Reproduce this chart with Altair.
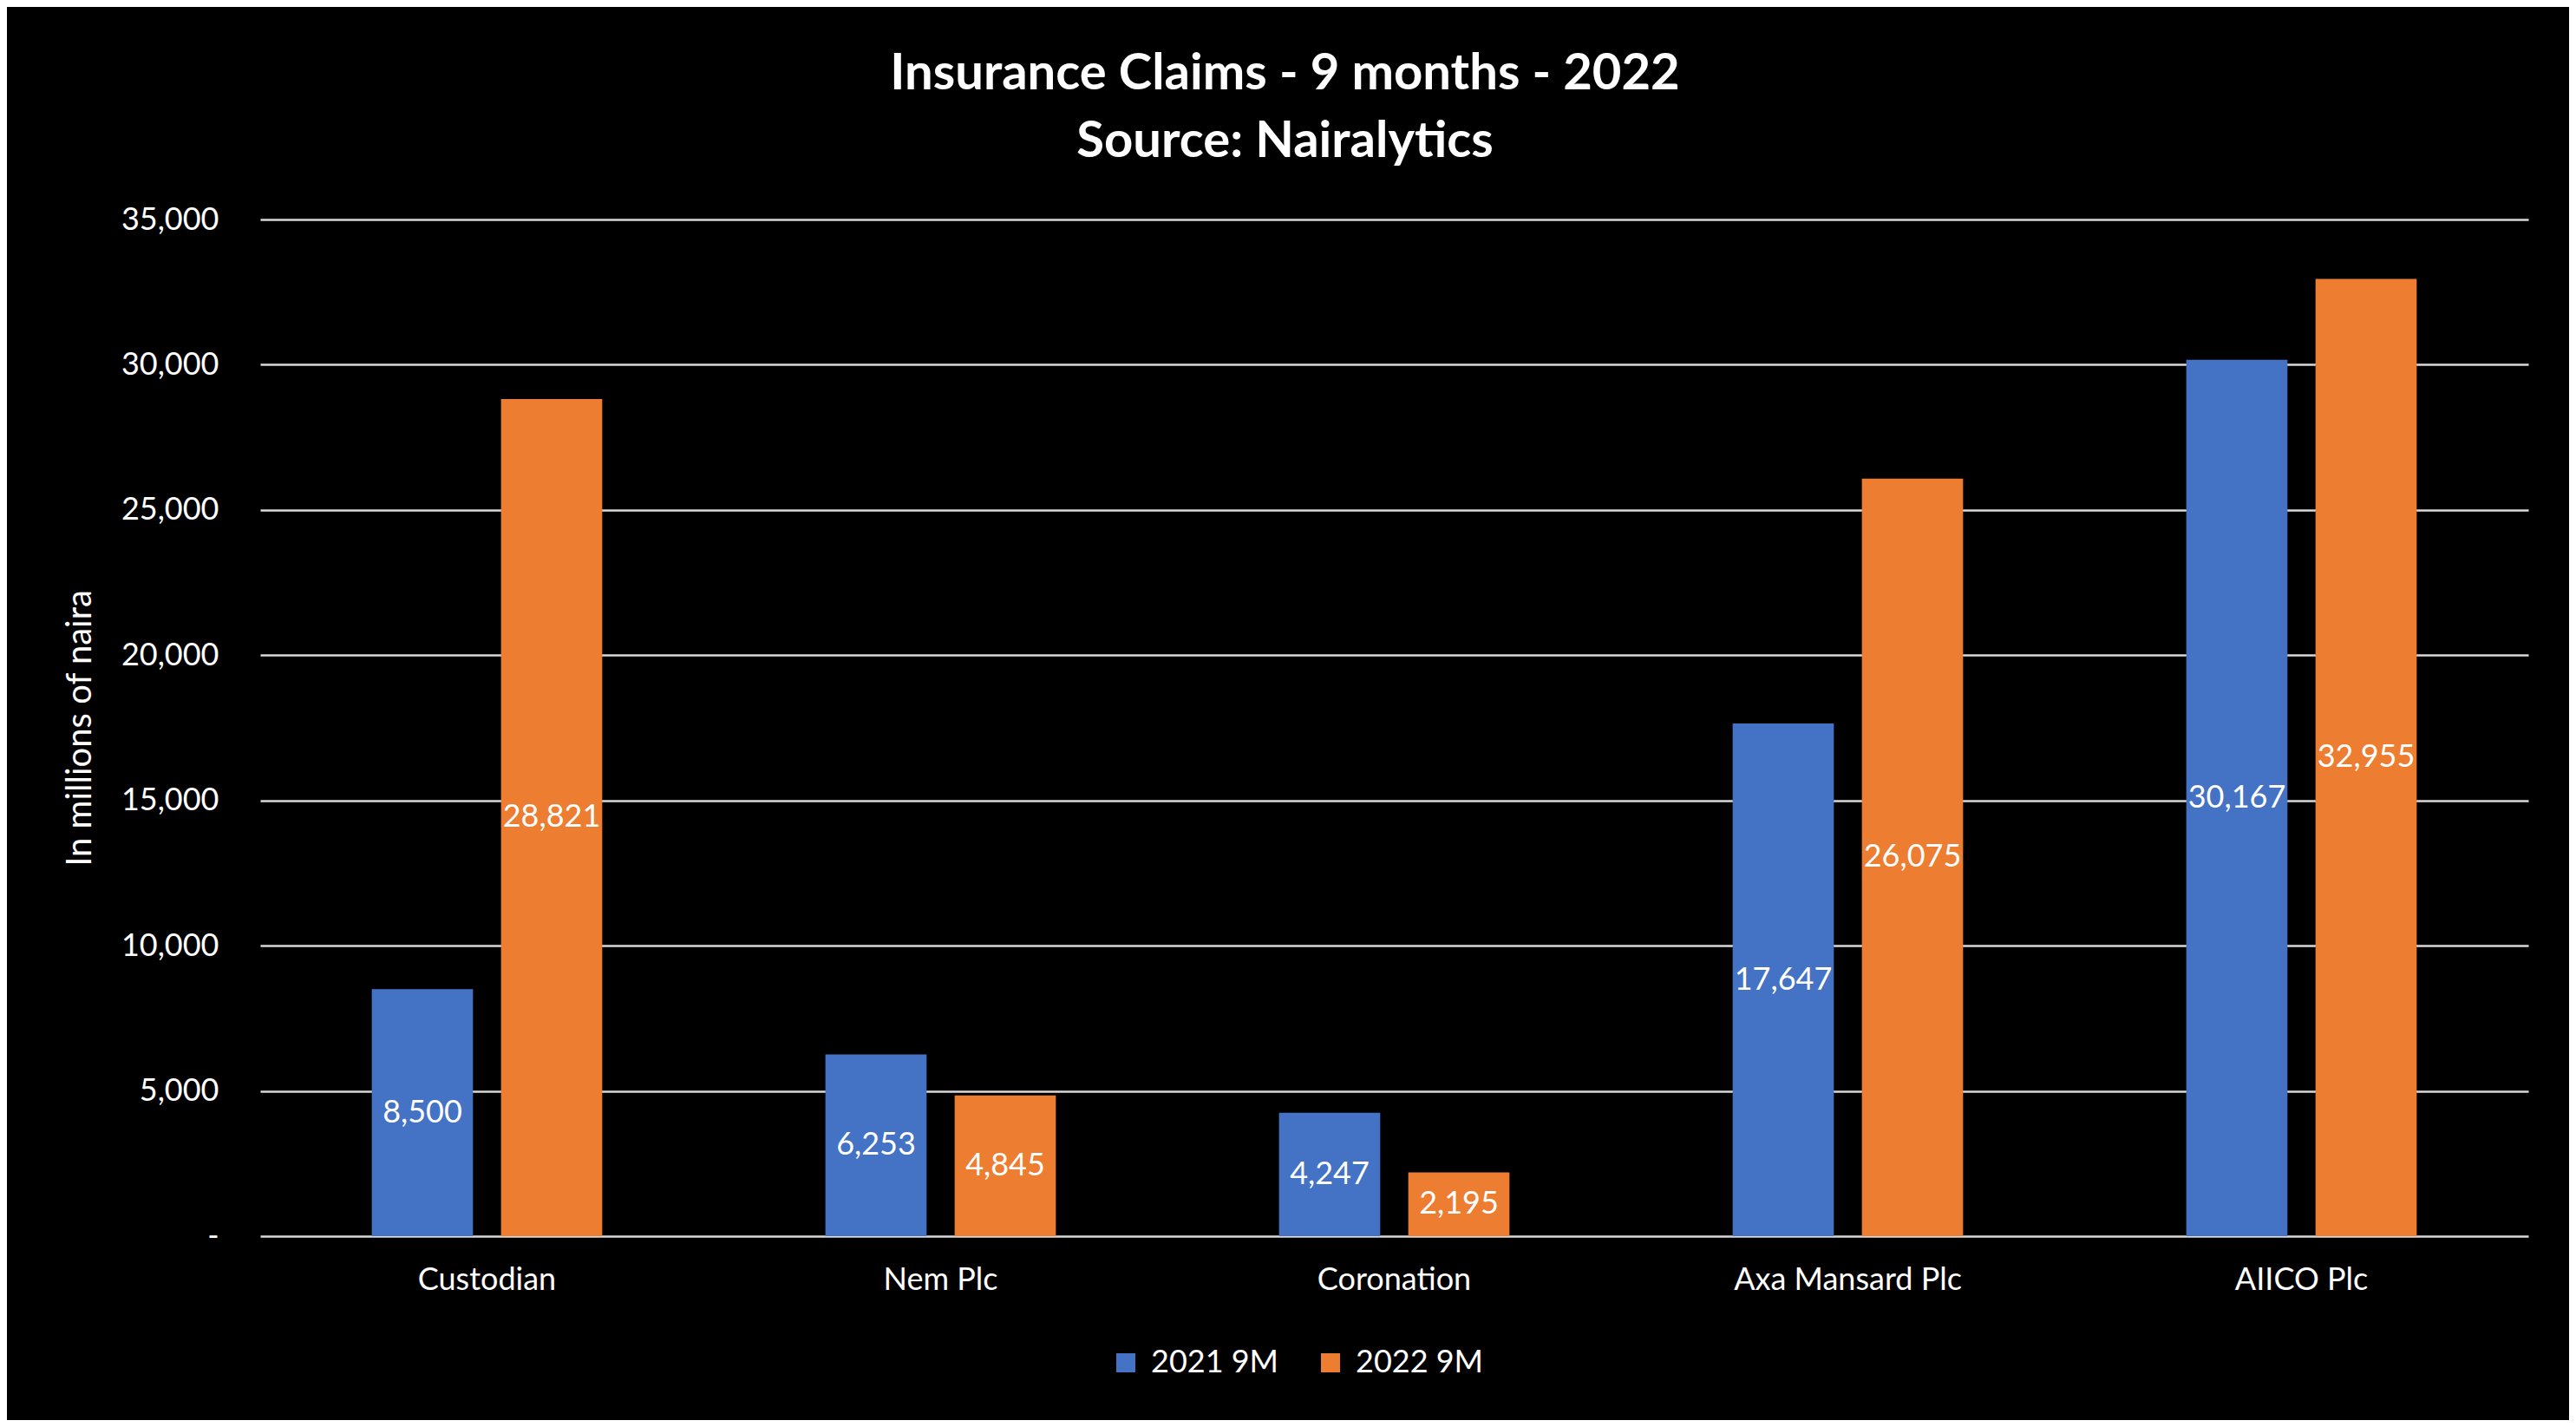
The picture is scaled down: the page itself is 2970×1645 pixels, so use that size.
import altair as alt
import pandas as pd

companies = ["Custodian", "Nem Plc", "Coronation", "Axa Mansard Plc", "AIICO Plc"]
series = ["2021 9M", "2022 9M"]
values_2021 = [8500, 6253, 4247, 17647, 30167]
values_2022 = [28821, 4845, 2195, 26075, 32955]
y_ticks = [0, 5000, 10000, 15000, 20000, 25000, 30000, 35000]
colors = ["#4472C4", "#ED7D31"]

rows = []
for c, a, b in zip(companies, values_2021, values_2022):
    rows.append({"company": c, "series": series[0], "value": a})
    rows.append({"company": c, "series": series[1], "value": b})
df = pd.DataFrame(rows)

FONT = "Lato"

x_enc = alt.X("company:N", sort=companies, title=None,
              scale=alt.Scale(paddingInner=0.492, paddingOuter=0.246),
              axis=alt.Axis(labelAngle=0, labelFontSize=36, labelColor="white",
                            labelFont=FONT, labelPadding=33, tickSize=0, ticks=False,
                            labelLimit=1000, domain=False, grid=False))
xoff_enc = alt.XOffset("series:N", sort=series,
                       scale=alt.Scale(paddingInner=0.217, paddingOuter=0))

base = alt.Chart(df)

bars = base.mark_bar().encode(
    x=x_enc,
    xOffset=xoff_enc,
    y=alt.Y("value:Q", title="In millions of naira",
            scale=alt.Scale(domain=[0, 35000], nice=False),
            axis=alt.Axis(values=y_ticks, labelFontSize=36, labelColor="white",
                          labelFont=FONT, labelPadding=48, tickSize=0, ticks=False,
                          domain=False, grid=True, gridColor="#d9d9d9", gridWidth=2.5,
                          labelExpr="datum.value == 0 ? '-\u2007' : format(datum.value, ',')",
                          titleFont=FONT, titleFontSize=40, titleColor="white",
                          titleFontWeight="normal", titleAngle=270,
                          titleX=-196, titleY=586, titleBaseline="alphabetic",
                          titleAlign="center")),
    color=alt.Color("series:N", sort=series,
                    scale=alt.Scale(domain=series, range=colors),
                    legend=alt.Legend(title=None, orient="none", direction="horizontal",
                                      legendX=980, legendY=1300, symbolType="square",
                                      symbolSize=484, symbolStrokeWidth=0,
                                      labelFontSize=36, labelColor="white", labelFont=FONT,
                                      labelOffset=11, columnPadding=41, padding=0)),
)

labels = base.transform_calculate(half="datum.value / 2").mark_text(
    color="white", fontSize=36, font=FONT, baseline="middle", align="center"
).encode(
    x=alt.X("company:N", sort=companies),
    xOffset=alt.XOffset("series:N", sort=series),
    y=alt.Y("half:Q"),
    text=alt.Text("value:Q", format=","),
)

chart = alt.layer(bars, labels).properties(
    width=2615,
    height=1172,
    autosize=alt.AutoSizeParams(type="none"),
    padding={"left": 292, "top": 245, "right": 47, "bottom": 212},
    background="black",
    title=alt.TitleParams(
        text=["Insurance Claims - 9 months - 2022", "Source: Nairalytics"],
        color="white", font=FONT, fontSize=58, fontWeight="bold",
        anchor="middle", frame="group", dx=-126, dy=158, offset=154,
        baseline="alphabetic", lineHeight=78,
    ),
).configure_view(stroke=None)

chart.save("out.html", embed_options={"renderer": "svg", "actions": False})
